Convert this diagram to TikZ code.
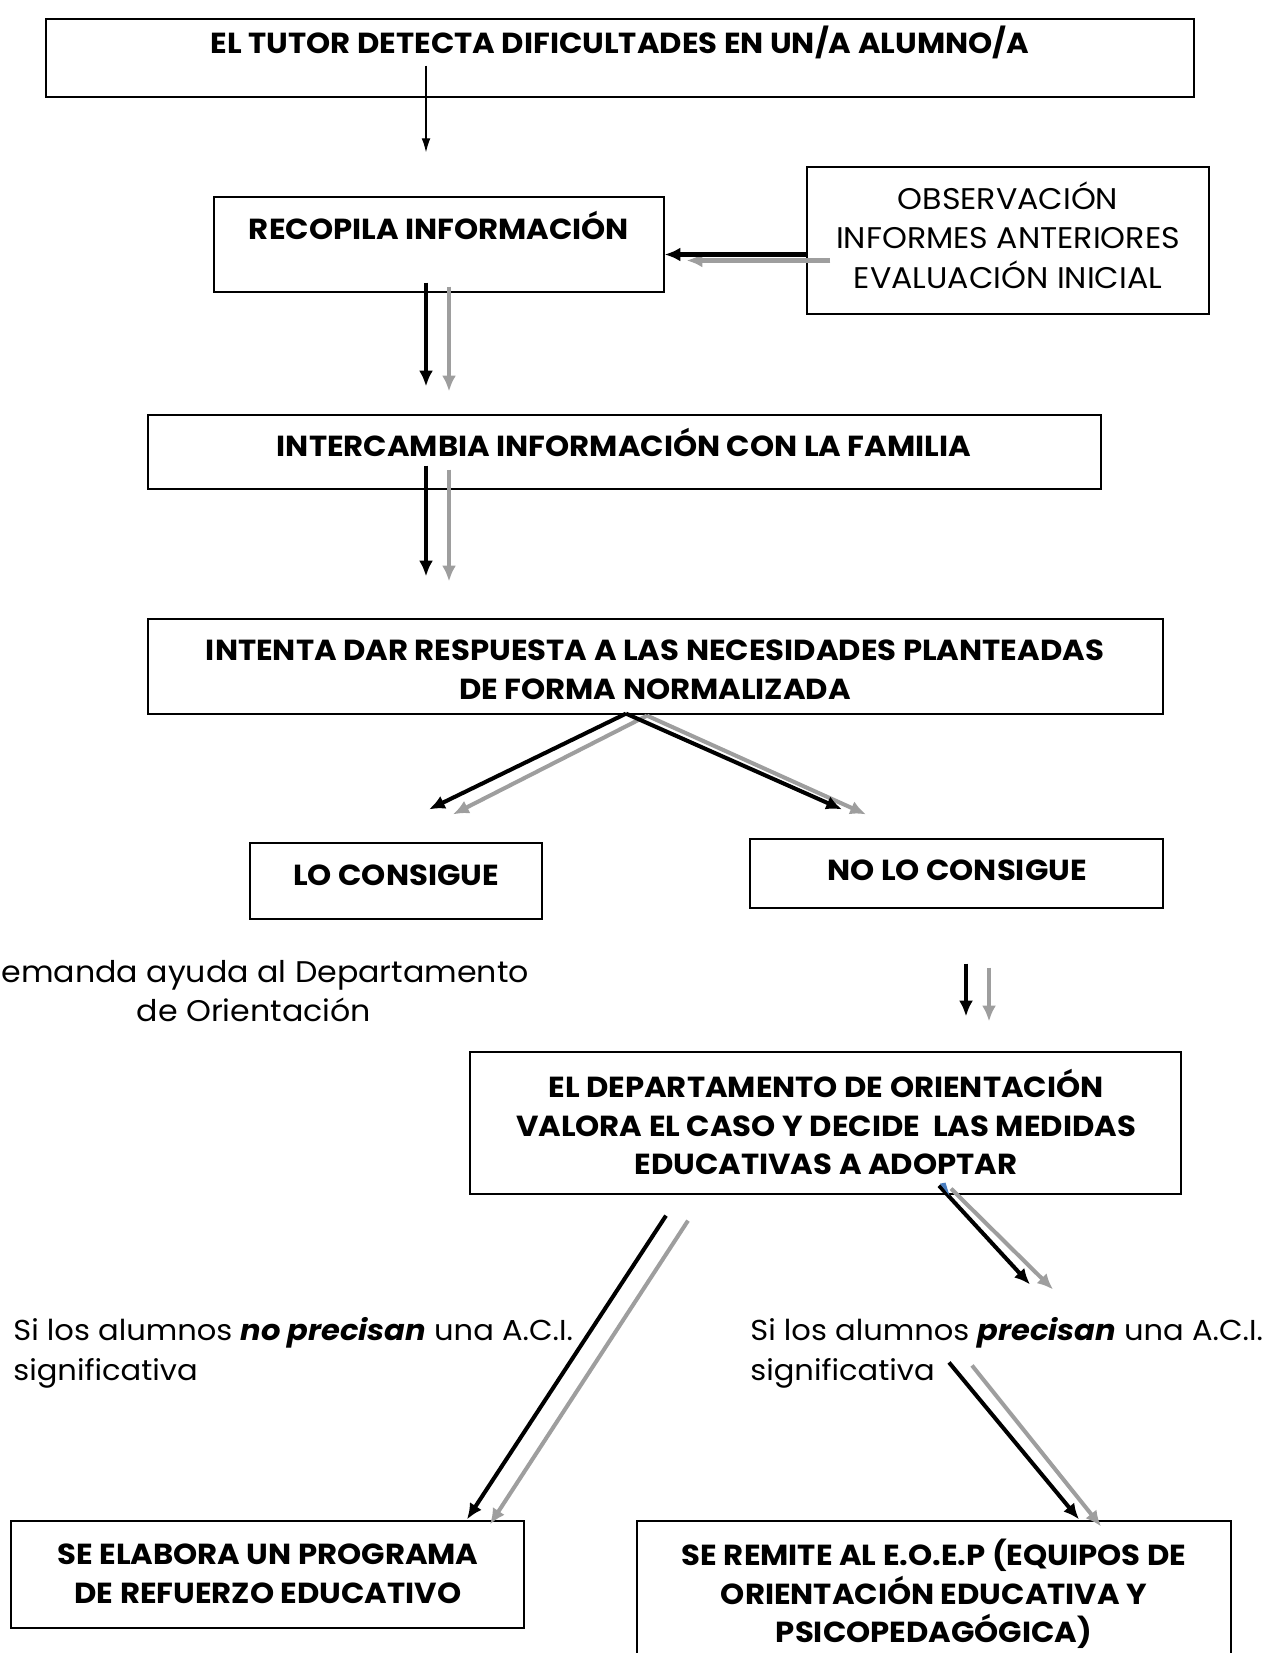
\documentclass[tikz,border=0pt]{standalone}
\usepackage{fontspec}
\setmainfont{Poppins}[FakeStretch=1.06]
\usepackage{xcolor}
\usetikzlibrary{calc, fit, shadows, arrows.meta}

\definecolor{azulpunta}{HTML}{4A7EC0}

\tikzset{
    caja/.style={draw, line width=0.7pt, fill=white, inner sep=0pt,
        drop shadow={shadow xshift=0.7pt, shadow yshift=-0.7pt, fill=black!55, opacity=1}},
    titulo/.style={font=\bfseries\fontsize{16.5}{22}\selectfont, align=center, inner sep=0pt},
    texto/.style={font=\fontsize{16.4}{22.5}\selectfont, inner sep=0pt},
    fina/.style={-{Latex[length=8pt,width=5pt]}, line width=0.7pt},
    negra/.style={-{Latex[length=9pt,width=8pt]}, line width=2.3pt},
    gris/.style={-{Latex[length=9pt,width=8pt]}, line width=2.3pt, color=black!38},
}

\begin{document}
\begin{tikzpicture}[x=0.02cm, y=-0.02cm]
    \useasboundingbox (0,0) rectangle (1270,1653);

    % 1. Cajas
    \node[caja, fit={(46,19) (1194,97)}] (tutor) {};
    \node[caja, fit={(214,197) (664,292)}] (recopila) {};
    \node[caja, fit={(807,167) (1209,314)}] (obs) {};
    \node[caja, fit={(148,415) (1101,489)}] (intercambia) {};
    \node[caja, fit={(148,619) (1163,714)}] (intenta) {};
    \node[caja, fit={(250,843) (542,919)}] (lo) {};
    \node[caja, fit={(750,839) (1163,908)}] (no) {};
    \node[caja, fit={(470,1052) (1181,1194)}] (dept) {};
    \node[caja, fit={(11,1521) (524,1628)}] (elabora) {};
    \node[caja, fit={(637,1521) (1231,1700)}] (remite) {};

    % 2. Textos
    \node[titulo] (tTutor) at (620,42) {EL TUTOR DETECTA DIFICULTADES EN UN/A ALUMNO/A};
    \node[titulo] (tRecopila) at (439,225) {RECOPILA INFORMACIÓN};
    \node[texto, font=\fontsize{17}{22.5}\selectfont, align=center] (tObs) at (1008,235)
        {OBSERVACIÓN\\INFORMES ANTERIORES\\EVALUACIÓN INICIAL};
    \node[titulo] (tInter) at (624,442) {INTERCAMBIA INFORMACIÓN CON LA FAMILIA};
    \node[titulo] (tIntenta) at (655,670)
        {INTENTA DAR RESPUESTA A LAS NECESIDADES PLANTEADAS\\DE FORMA NORMALIZADA};
    \node[titulo] (tLo) at (396,875) {LO CONSIGUE};
    \node[titulo] (tNo) at (957,870) {NO LO CONSIGUE};
    \node[texto, font=\fontsize{17}{22.5}\selectfont, align=center] (demanda) at (254,991)
        {Demanda ayuda al Departamento\\de Orientación};
    \node[titulo] (tDept) at (826,1122)
        {EL DEPARTAMENTO DE ORIENTACIÓN\\VALORA EL CASO Y DECIDE \ LAS MEDIDAS\\EDUCATIVAS A ADOPTAR};
    \node[texto, align=left, anchor=west] (sinoprec) at (13,1353)
        {Si los alumnos \textbf{\textit{no precisan}} una A.C.I.\\significativa};
    \node[texto, align=left, anchor=west] (siprec) at (750,1353)
        {Si los alumnos \textbf{\textit{precisan}} una A.C.I.\\significativa};
    \node[titulo] (tElabora) at (268,1574) {SE ELABORA UN PROGRAMA\\DE REFUERZO EDUCATIVO};
    \node[titulo] (tRemite) at (934,1594)
        {SE REMITE AL E.O.E.P (EQUIPOS DE\\ORIENTACIÓN EDUCATIVA Y\\PSICOPEDAGÓGICA)};

    % 3. Flechas
    \draw[fina] ([shift={(-194,-32)}]tutor.south) -- ([shift={(-13,-44)}]recopila.north);

    \draw[gris] ([shift={(24,20)}]obs.west) -- ([shift={(22,16)}]recopila.east);
    \draw[negra] ([shift={(0,14)}]obs.west) -- ([shift={(0,10)}]recopila.east);

    \draw[gris] ([shift={(10,-6)}]recopila.south) -- ([shift={(-175.5,-23)}]intercambia.north);
    \draw[negra] ([shift={(-13,-10)}]recopila.south) -- ([shift={(-198.5,-28)}]intercambia.north);

    \draw[gris] ([shift={(-175.5,-20)}]intercambia.south) -- ([shift={(-206.5,-37)}]intenta.north);
    \draw[negra] ([shift={(-198.5,-24)}]intercambia.south) -- ([shift={(-229.5,-42)}]intenta.north);

    \draw[gris] ([shift={(-8.5,1)}]intenta.south) -- ([shift={(57,-28)}]lo.north);
    \draw[gris] ([shift={(-8.5,1)}]intenta.south) -- ([shift={(-90.5,-24)}]no.north);
    \draw[negra] ([shift={(-29.5,-1)}]intenta.south) -- ([shift={(33,-33)}]lo.north);
    \draw[negra] ([shift={(-29.5,-1)}]intenta.south) -- ([shift={(-114.5,-29)}]no.north);

    \draw[gris] ([shift={(32.5,59)}]no.south) -- ([shift={(163.5,-30)}]dept.north);
    \draw[negra] ([shift={(9.5,55)}]no.south) -- ([shift={(140.5,-35)}]dept.north);

    \draw[gris] ([shift={(-137.5,26)}]dept.south) -- ([shift={(222.5,4)}]elabora.north);
    \draw[negra] ([shift={(-159.5,21)}]dept.south) -- ([shift={(199.5,-1)}]elabora.north);

    \draw[gris] ([shift={(125.5,-6)}]dept.south) -- ([shift={(303,-28)}]siprec.north west);
    \draw[negra] ([shift={(113.5,-9)}]dept.south) -- ([shift={(280,-33)}]siprec.north west);
    \fill[azulpunta] ([shift={(114.5,-11)}]dept.south) -- ([shift={(120,-12)}]dept.south)
        -- ([shift={(124,1)}]dept.south) -- cycle;

    \draw[gris] ([shift={(222,48)}]siprec.north west) -- ([shift={(167,6)}]remite.north);
    \draw[negra] ([shift={(199,45)}]siprec.north west) -- ([shift={(145,-1)}]remite.north);
\end{tikzpicture}
\end{document}
